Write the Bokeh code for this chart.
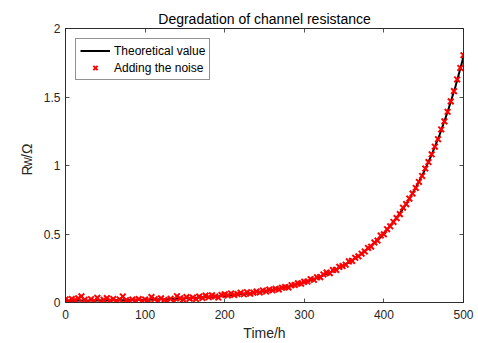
import math
from bokeh.plotting import figure
from bokeh.layouts import row
from bokeh.models import Range1d, LinearAxis, FixedTicker, Legend, LegendItem
from bokeh.core.properties import value
from bokeh.embed import file_html
from bokeh.resources import INLINE

# ---- data ----
t_theory = list(range(0, 501, 10))
r_theory = [0.0130, 0.0134, 0.0138, 0.0143, 0.0149, 0.0156, 0.0164, 0.0173, 0.0182, 0.0194,
            0.0206, 0.0221, 0.0238, 0.0256, 0.0278, 0.0302, 0.0330, 0.0361, 0.0397, 0.0437,
            0.0483, 0.0535, 0.0595, 0.0662, 0.0739, 0.0826, 0.0925, 0.1038, 0.1166, 0.1312,
            0.1477, 0.1666, 0.1879, 0.2122, 0.2399, 0.2713, 0.3070, 0.3475, 0.3936, 0.4460,
            0.5056, 0.5733, 0.6502, 0.7377, 0.8371, 0.9501, 1.0785, 1.2244, 1.3903, 1.5789,
            1.7932]

t_noise = list(range(0, 501, 4))
r_noise = [0.022, 0.010, 0.026, 0.018, 0.030, 0.045, 0.020, 0.003, 0.024, 0.012,
           0.034, 0.002, 0.019, 0.032, 0.015, 0.026, 0.011, 0.022, 0.044, 0.017,
           0.007, 0.021, 0.013, 0.025, 0.009, 0.022, 0.016, 0.040, 0.024, 0.012,
           0.030, 0.018, 0.008, 0.027, 0.003, 0.046, 0.030, 0.022, 0.040, 0.028,
           0.036, 0.025, 0.043, 0.034, 0.050, 0.039, 0.052, 0.044, 0.036, 0.055,
           0.060, 0.052, 0.066, 0.055, 0.062, 0.071, 0.060, 0.075, 0.064, 0.072,
           0.080, 0.073, 0.088, 0.081, 0.094, 0.089, 0.100, 0.095, 0.108, 0.113,
           0.110, 0.126, 0.128, 0.140, 0.138, 0.152, 0.153, 0.170, 0.166, 0.184,
           0.185, 0.205, 0.218, 0.214, 0.237, 0.238, 0.260, 0.266, 0.276, 0.300,
           0.304, 0.326, 0.337, 0.356, 0.372, 0.398, 0.407, 0.438, 0.452, 0.489,
           0.498, 0.535, 0.556, 0.588, 0.616, 0.645, 0.692, 0.718, 0.758, 0.795,
           0.836, 0.880, 0.924, 0.978, 1.025, 1.082, 1.137, 1.192, 1.263, 1.322,
           1.392, 1.468, 1.543, 1.628, 1.712, 1.805]

x_ticks = [0, 100, 200, 300, 400, 500]
y_ticks = [0, 0.5, 1, 1.5, 2]

FONT = "Liberation Sans"
AX = "#262626"
LABEL_W = 40

p = figure(width=478 - LABEL_W, height=343, output_backend="svg", toolbar_location=None,
           x_range=Range1d(0, 500), y_range=Range1d(0, 2),
           min_border_left=65 - LABEL_W, min_border_right=15, min_border_top=28, min_border_bottom=41,
           title="Degradation of channel resistance")
p.title.align = "center"
p.title.text_font = FONT
p.title.text_font_size = "14px"
p.title.text_font_style = "normal"
p.title.text_color = "black"
p.title.standoff = 4

p.grid.visible = False
p.outline_line_color = AX
p.outline_line_width = 0.8
p.background_fill_color = "white"
p.border_fill_color = "white"

def style_axis(ax, ticks, labels=True):
    ax.ticker = FixedTicker(ticks=ticks)
    ax.major_tick_in = 4
    ax.major_tick_out = 0
    ax.minor_tick_line_color = None
    ax.axis_line_color = AX
    ax.axis_line_width = 0.8
    ax.major_tick_line_color = AX
    ax.major_tick_line_width = 0.8
    ax.major_label_text_font = FONT
    ax.major_label_text_font_size = "12px"
    if labels:
        ax.major_label_text_color = AX
    else:
        ax.major_label_text_color = None
        ax.major_label_standoff = 0

style_axis(p.xaxis[0], x_ticks)
style_axis(p.yaxis[0], y_ticks)
p.xaxis[0].major_label_standoff = 7
p.yaxis[0].major_label_standoff = 5
p.xaxis[0].axis_label = "Time/h"
p.xaxis[0].axis_label_text_font = FONT
p.xaxis[0].axis_label_text_font_size = "14px"
p.xaxis[0].axis_label_text_font_style = "normal"
p.xaxis[0].axis_label_text_color = AX
p.xaxis[0].axis_label_standoff = 3

top = LinearAxis()
style_axis(top, x_ticks, labels=False)
p.add_layout(top, "above")
right = LinearAxis()
style_axis(right, y_ticks, labels=False)
p.add_layout(right, "right")

line = p.line(t_theory, r_theory, line_color="black", line_width=2)
pts = p.scatter(t_noise, r_noise, marker="x", size=8, line_color="red", line_width=2)

legend = Legend(items=[LegendItem(label="Theoretical value", renderers=[line]),
                       LegendItem(label="Adding the noise", renderers=[pts])],
                location="top_left", margin=10, padding=4, spacing=2,
                glyph_width=30, glyph_height=15, label_height=15, label_standoff=4,
                label_text_font=FONT, label_text_font_size="12px", label_text_color="black",
                border_line_color=AX, border_line_width=0.8, background_fill_alpha=1)
p.add_layout(legend)

# y-axis label R_W/Ω in a narrow side panel (rotated, with subscript)
lab = figure(width=LABEL_W, height=343, output_backend="svg", toolbar_location=None,
             x_range=Range1d(0, LABEL_W), y_range=Range1d(0, 343),
             min_border=0, min_border_left=0, min_border_right=0,
             min_border_top=0, min_border_bottom=0)
lab.axis.visible = False
lab.grid.visible = False
lab.outline_line_color = None
lab.background_fill_color = "white"
lab.border_fill_color = "white"
txt_kw = dict(angle=math.pi / 2, text_font=value(FONT), text_color=AX,
              text_align="left", text_baseline="alphabetic")
lab.text(x=[26], y=[159], text=["R"], text_font_size="14px", **txt_kw)
lab.text(x=[28], y=[170], text=["W"], text_font_size="10px", **txt_kw)
lab.text(x=[26], y=[181], text=["/Ω"], text_font_size="14px", **txt_kw)

layout = row(lab, p, spacing=0)
open("out.html", "w").write(file_html(layout, INLINE))
